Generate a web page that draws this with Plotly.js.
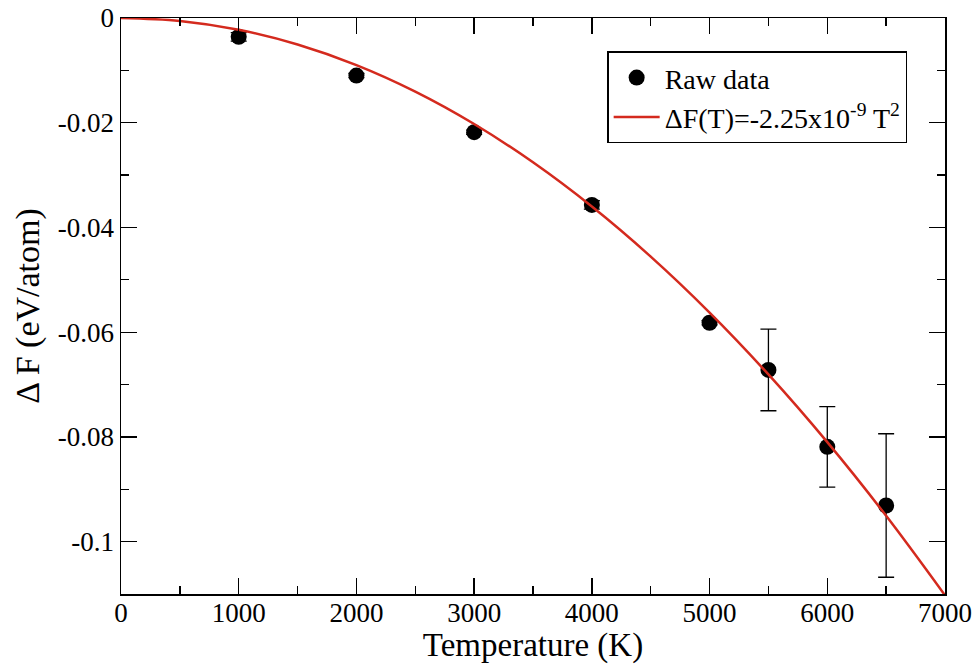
<!DOCTYPE html>
<html>
<head>
<meta charset="utf-8">
<script src="https://cdn.plot.ly/plotly-3.0.1.min.js"></script>
<style>html,body{margin:0;padding:0;background:#fff;}#chart{width:978px;height:664px;}</style>
</head>
<body>
<div id="chart"></div>
<script>
// Raw data points (Temperature in K, ΔF in eV/atom) with error bars
const rawT = [1000, 2000, 3000, 4000, 5000, 5500, 6000, 6500];
const rawF = [-0.0036, -0.0110, -0.0218, -0.0357, -0.0582, -0.0672, -0.0819, -0.0931];
const rawErr = [0.0008, 0.0004, 0.0004, 0.0008, 0.0004, 0.0078, 0.0077, 0.0137];

// Fitted curve ΔF(T) = -2.25e-9 T^2, sampled values
const fitT = [0, 500, 1000, 1500, 2000, 2500, 3000, 3500, 4000, 4500, 5000, 5500, 6000, 6500, 7000];
const fitF = [0, -0.0005625, -0.00225, -0.0050625, -0.009, -0.0140625, -0.02025, -0.0275625,
              -0.036, -0.0455625, -0.05625, -0.0680625, -0.081, -0.0950625, -0.11025];

const xTickVals = [0, 1000, 2000, 3000, 4000, 5000, 6000, 7000];
const xTickText = ['0', '1000', '2000', '3000', '4000', '5000', '6000', '7000'];
const yTickVals = [0, -0.02, -0.04, -0.06, -0.08, -0.1];
const yTickText = ['0', '-0.02', '-0.04', '-0.06', '-0.08', '-0.1'];

const serif = "'Liberation Serif', 'Times New Roman', Times, serif";

const traces = [
  {
    x: rawT, y: rawF, type: 'scatter', mode: 'markers', name: 'Raw data',
    marker: {color: '#000', size: 16, symbol: 'circle'},
    error_y: {type: 'data', array: rawErr, visible: true, color: '#000', thickness: 1.3, width: 8}
  },
  {
    x: fitT, y: fitF, type: 'scatter', mode: 'lines', name: 'ΔF(T)=-2.25x10<sup>-9</sup> T<sup>2</sup>',
    line: {color: '#d42a1e', width: 2.5, shape: 'spline'}
  }
];

const axisCommon = {
  showline: true, linecolor: '#000', linewidth: 1.5, mirror: 'ticks',
  ticks: 'inside', ticklen: 16, tickwidth: 1.3, tickcolor: '#000',
  showgrid: false, zeroline: false,
  tickfont: {family: serif, size: 27, color: '#000'},
};

const layout = {
  width: 978, height: 664,
  margin: {l: 121, r: 33, t: 18, b: 70},
  paper_bgcolor: '#fff', plot_bgcolor: '#fff',
  font: {family: serif, color: '#000'},
  showlegend: true,
  legend: {
    x: 0.59, y: 0.942, xanchor: 'left', yanchor: 'top',
    bordercolor: '#000', borderwidth: 1.5, bgcolor: '#fff',
    font: {family: serif, size: 28, color: '#000'},
    tracegroupgap: 0, itemwidth: 46
  },
  xaxis: Object.assign({}, axisCommon, {
    range: [0, 7000], tickmode: 'array', tickvals: xTickVals, ticktext: xTickText,
    ticklabelstandoff: -6,
    minor: {dtick: 500, ticks: 'inside', ticklen: 8, tickwidth: 1.3, tickcolor: '#000', showgrid: false},
    title: {text: 'Temperature (K)', font: {family: serif, size: 33, color: '#000'}, standoff: 0}
  }),
  yaxis: Object.assign({}, axisCommon, {
    range: [-0.11, 0], tickmode: 'array', tickvals: yTickVals, ticktext: yTickText,
    minor: {dtick: 0.01, tick0: 0, ticks: 'inside', ticklen: 8, tickwidth: 1.3, tickcolor: '#000', showgrid: false},
    title: {text: 'Δ F (eV/atom)', font: {family: serif, size: 34, color: '#000'}, standoff: 8}
  })
};

Plotly.newPlot('chart', traces, layout, {displayModeBar: false, staticPlot: true});
</script>
</body>
</html>
